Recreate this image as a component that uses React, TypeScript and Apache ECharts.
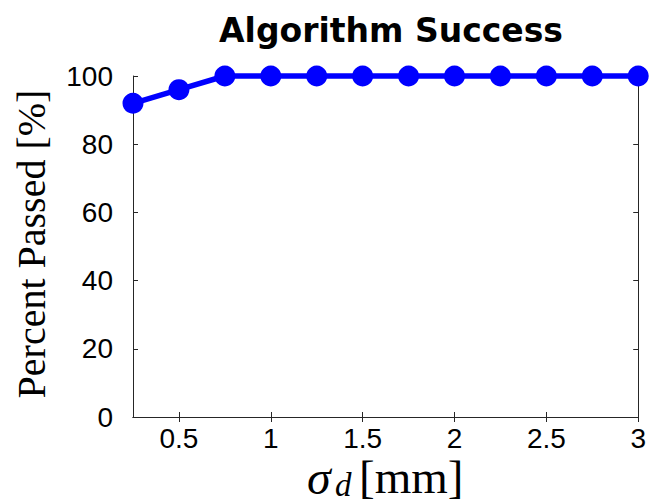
import React, { useEffect, useRef } from "react";
import * as echarts from "echarts";

const sigmaValues = [0.25, 0.5, 0.75, 1.0, 1.25, 1.5, 1.75, 2.0, 2.25, 2.5, 2.75, 3.0];
const percentPassed = [92, 96, 100, 100, 100, 100, 100, 100, 100, 100, 100, 100];
const xTicks = [0.5, 1, 1.5, 2, 2.5, 3];
const titleText = "Algorithm Success";
const yLabelText = "Percent Passed [%]";

export default function App() {
  const ref = useRef<HTMLDivElement>(null);
  useEffect(() => {
    if (!ref.current) return;
    const chart = echarts.init(ref.current, null, { renderer: "svg" });
    const axisColor = "#262626";
    const sans = "'Liberation Sans', Arial, sans-serif";
    const serif = "'Liberation Serif', 'Times New Roman', serif";
    const baseX = {
      type: "value" as const,
      min: 0.25,
      max: 3,
      splitLine: { show: false },
      axisLine: { show: true, lineStyle: { color: axisColor, width: 1 } },
      axisTick: { show: true, inside: true, length: 5, customValues: xTicks, lineStyle: { color: axisColor } },
    };
    const baseY = {
      type: "value" as const,
      min: 0,
      max: 100,
      interval: 20,
      splitLine: { show: false },
      axisLine: { show: true, lineStyle: { color: axisColor, width: 1 } },
      axisTick: { show: true, inside: true, length: 5, lineStyle: { color: axisColor } },
    };
    chart.setOption({
      animation: false,
      backgroundColor: "#ffffff",
      title: {
        text: titleText,
        left: 386,
        top: 9,
        textAlign: "center",
        textStyle: { fontFamily: "'DejaVu Sans', sans-serif", fontSize: 33, fontWeight: "bold", color: "#000", lineHeight: 33 },
      },
      grid: { left: 133, right: 8, top: 76, bottom: 87, containLabel: false },
      xAxis: [
        {
          ...baseX,
          position: "bottom",
          axisLabel: {
            show: true,
            customValues: xTicks,
            margin: 7,
            fontFamily: sans,
            fontSize: 28,
            lineHeight: 28,
            color: "#000",
            formatter: (v: number) => String(v),
          },
        },
        { ...baseX, position: "top", axisLabel: { show: false } },
      ],
      yAxis: [
        {
          ...baseY,
          position: "left",
          axisLabel: { show: true, margin: 20, fontFamily: sans, fontSize: 28, color: "#000" },
        },
        { ...baseY, position: "right", axisLabel: { show: false } },
      ],
      graphic: [
        {
          type: "text",
          x: 31,
          y: 244,
          rotation: Math.PI / 2,
          style: {
            text: yLabelText,
            fontFamily: serif,
            fontSize: 40,
            fill: "#000",
            align: "center",
            verticalAlign: "middle",
          },
        },
        {
          type: "text",
          x: 307,
          y: 477,
          style: { text: "σ", fontFamily: serif, fontStyle: "italic", fontSize: 48, fill: "#000", align: "left", verticalAlign: "middle" },
        },
        {
          type: "text",
          x: 335,
          y: 485,
          style: { text: "d", fontFamily: serif, fontStyle: "italic", fontSize: 33, fill: "#000", align: "left", verticalAlign: "middle" },
        },
        {
          type: "text",
          x: 359,
          y: 477,
          style: { text: "[mm]", fontFamily: serif, fontSize: 47, fill: "#000", align: "left", verticalAlign: "middle" },
        },
      ],
      series: [
        {
          type: "line",
          data: sigmaValues.map((x, i) => [x, percentPassed[i]]),
          clip: false,
          symbol: "circle",
          symbolSize: 21,
          lineStyle: { color: "#0000ff", width: 5.5 },
          itemStyle: { color: "#0000ff" },
          z: 5,
        },
      ],
    });
    return () => chart.dispose();
  }, []);
  return <div ref={ref} style={{ width: 649, height: 504, position: "absolute", left: 0, top: 0 }} />;
}
